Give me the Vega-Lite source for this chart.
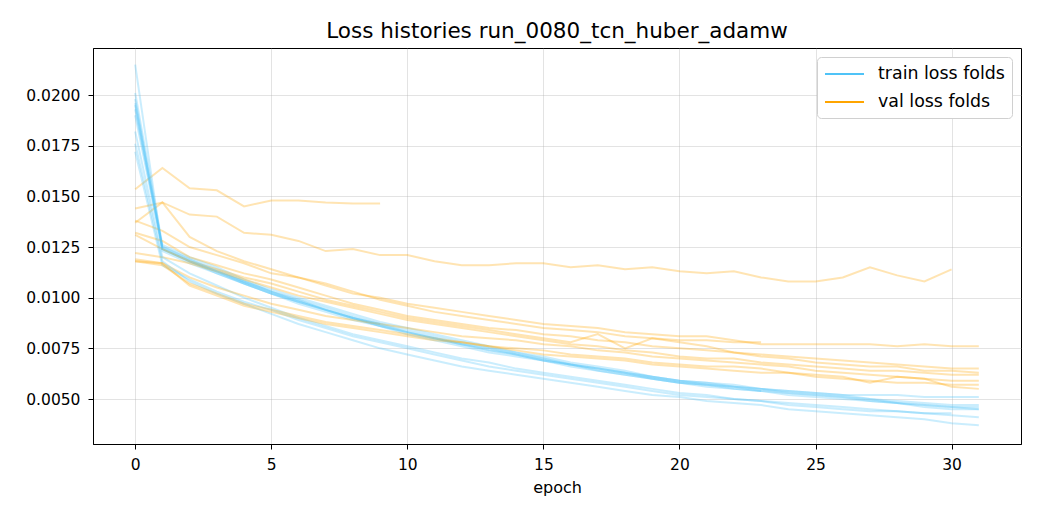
{
  "$schema": "https://vega.github.io/schema/vega-lite/v6.json",
  "width": 928,
  "height": 396,
  "autosize": "none",
  "padding": {"left": 93, "top": 48, "right": 19, "bottom": 76},
  "background": "white",
  "title": {"text": "Loss histories run_0080_tcn_huber_adamw", "fontSize": 21.5, "font": "DejaVu Sans", "fontWeight": "normal", "color": "black", "offset": 6},
  "config": {"view": {"stroke": "black", "strokeWidth": 1}, "font": "DejaVu Sans"},
  "data": {"values": [
    {"fold":"A","set":"train","epoch":0,"loss":0.0193},{"fold":"A","set":"train","epoch":1,"loss":0.0124},{"fold":"A","set":"train","epoch":2,"loss":0.0118},{"fold":"A","set":"train","epoch":3,"loss":0.0113},{"fold":"A","set":"train","epoch":4,"loss":0.0108},{"fold":"A","set":"train","epoch":5,"loss":0.0103},{"fold":"A","set":"train","epoch":6,"loss":0.0099},{"fold":"A","set":"train","epoch":7,"loss":0.0094},{"fold":"A","set":"train","epoch":8,"loss":0.0090},{"fold":"A","set":"train","epoch":9,"loss":0.0087},
    {"fold":"A","set":"val","epoch":0,"loss":0.01535},{"fold":"A","set":"val","epoch":1,"loss":0.0164},{"fold":"A","set":"val","epoch":2,"loss":0.0154},{"fold":"A","set":"val","epoch":3,"loss":0.0153},{"fold":"A","set":"val","epoch":4,"loss":0.0145},{"fold":"A","set":"val","epoch":5,"loss":0.0148},{"fold":"A","set":"val","epoch":6,"loss":0.0148},{"fold":"A","set":"val","epoch":7,"loss":0.0147},{"fold":"A","set":"val","epoch":8,"loss":0.01465},{"fold":"A","set":"val","epoch":9,"loss":0.01465},
    {"fold":"B","set":"train","epoch":0,"loss":0.0172},{"fold":"B","set":"train","epoch":1,"loss":0.0116},{"fold":"B","set":"train","epoch":2,"loss":0.0109},{"fold":"B","set":"train","epoch":3,"loss":0.0103},{"fold":"B","set":"train","epoch":4,"loss":0.0098},{"fold":"B","set":"train","epoch":5,"loss":0.0094},{"fold":"B","set":"train","epoch":6,"loss":0.0089},{"fold":"B","set":"train","epoch":7,"loss":0.0085},{"fold":"B","set":"train","epoch":8,"loss":0.0081},{"fold":"B","set":"train","epoch":9,"loss":0.0078},{"fold":"B","set":"train","epoch":10,"loss":0.0075},{"fold":"B","set":"train","epoch":11,"loss":0.0072},{"fold":"B","set":"train","epoch":12,"loss":0.0069},{"fold":"B","set":"train","epoch":13,"loss":0.0066},{"fold":"B","set":"train","epoch":14,"loss":0.0064},{"fold":"B","set":"train","epoch":15,"loss":0.0062},{"fold":"B","set":"train","epoch":16,"loss":0.0060},{"fold":"B","set":"train","epoch":17,"loss":0.0058},{"fold":"B","set":"train","epoch":18,"loss":0.0056},{"fold":"B","set":"train","epoch":19,"loss":0.0054},{"fold":"B","set":"train","epoch":20,"loss":0.0052},{"fold":"B","set":"train","epoch":21,"loss":0.0051},{"fold":"B","set":"train","epoch":22,"loss":0.0050},{"fold":"B","set":"train","epoch":23,"loss":0.0049},{"fold":"B","set":"train","epoch":24,"loss":0.0047},{"fold":"B","set":"train","epoch":25,"loss":0.0046},{"fold":"B","set":"train","epoch":26,"loss":0.0045},{"fold":"B","set":"train","epoch":27,"loss":0.0044},{"fold":"B","set":"train","epoch":28,"loss":0.0044},{"fold":"B","set":"train","epoch":29,"loss":0.0043},{"fold":"B","set":"train","epoch":30,"loss":0.0043},
    {"fold":"B","set":"val","epoch":0,"loss":0.0144},{"fold":"B","set":"val","epoch":1,"loss":0.0147},{"fold":"B","set":"val","epoch":2,"loss":0.0141},{"fold":"B","set":"val","epoch":3,"loss":0.0140},{"fold":"B","set":"val","epoch":4,"loss":0.0132},{"fold":"B","set":"val","epoch":5,"loss":0.0131},{"fold":"B","set":"val","epoch":6,"loss":0.0128},{"fold":"B","set":"val","epoch":7,"loss":0.0123},{"fold":"B","set":"val","epoch":8,"loss":0.0124},{"fold":"B","set":"val","epoch":9,"loss":0.0121},{"fold":"B","set":"val","epoch":10,"loss":0.0121},{"fold":"B","set":"val","epoch":11,"loss":0.0118},{"fold":"B","set":"val","epoch":12,"loss":0.0116},{"fold":"B","set":"val","epoch":13,"loss":0.0116},{"fold":"B","set":"val","epoch":14,"loss":0.0117},{"fold":"B","set":"val","epoch":15,"loss":0.0117},{"fold":"B","set":"val","epoch":16,"loss":0.0115},{"fold":"B","set":"val","epoch":17,"loss":0.0116},{"fold":"B","set":"val","epoch":18,"loss":0.0114},{"fold":"B","set":"val","epoch":19,"loss":0.0115},{"fold":"B","set":"val","epoch":20,"loss":0.0113},{"fold":"B","set":"val","epoch":21,"loss":0.0112},{"fold":"B","set":"val","epoch":22,"loss":0.0113},{"fold":"B","set":"val","epoch":23,"loss":0.0110},{"fold":"B","set":"val","epoch":24,"loss":0.0108},{"fold":"B","set":"val","epoch":25,"loss":0.0108},{"fold":"B","set":"val","epoch":26,"loss":0.0110},{"fold":"B","set":"val","epoch":27,"loss":0.0115},{"fold":"B","set":"val","epoch":28,"loss":0.0111},{"fold":"B","set":"val","epoch":29,"loss":0.0108},{"fold":"B","set":"val","epoch":30,"loss":0.0114},
    {"fold":"C","set":"train","epoch":0,"loss":0.0190},{"fold":"C","set":"train","epoch":1,"loss":0.0124},{"fold":"C","set":"train","epoch":2,"loss":0.0118},{"fold":"C","set":"train","epoch":3,"loss":0.0112},{"fold":"C","set":"train","epoch":4,"loss":0.0107},{"fold":"C","set":"train","epoch":5,"loss":0.0102},{"fold":"C","set":"train","epoch":6,"loss":0.0097},{"fold":"C","set":"train","epoch":7,"loss":0.0093},{"fold":"C","set":"train","epoch":8,"loss":0.0089},{"fold":"C","set":"train","epoch":9,"loss":0.0086},{"fold":"C","set":"train","epoch":10,"loss":0.0082},{"fold":"C","set":"train","epoch":11,"loss":0.0079},{"fold":"C","set":"train","epoch":12,"loss":0.0076},{"fold":"C","set":"train","epoch":13,"loss":0.0073},{"fold":"C","set":"train","epoch":14,"loss":0.0071},{"fold":"C","set":"train","epoch":15,"loss":0.0069},{"fold":"C","set":"train","epoch":16,"loss":0.0066},{"fold":"C","set":"train","epoch":17,"loss":0.0064},{"fold":"C","set":"train","epoch":18,"loss":0.0062},{"fold":"C","set":"train","epoch":19,"loss":0.0060},{"fold":"C","set":"train","epoch":20,"loss":0.0058},{"fold":"C","set":"train","epoch":21,"loss":0.0057},{"fold":"C","set":"train","epoch":22,"loss":0.0055},{"fold":"C","set":"train","epoch":23,"loss":0.0054},
    {"fold":"C","set":"val","epoch":0,"loss":0.0137},{"fold":"C","set":"val","epoch":1,"loss":0.0147},{"fold":"C","set":"val","epoch":2,"loss":0.0130},{"fold":"C","set":"val","epoch":3,"loss":0.0123},{"fold":"C","set":"val","epoch":4,"loss":0.0118},{"fold":"C","set":"val","epoch":5,"loss":0.0114},{"fold":"C","set":"val","epoch":6,"loss":0.0110},{"fold":"C","set":"val","epoch":7,"loss":0.0107},{"fold":"C","set":"val","epoch":8,"loss":0.0103},{"fold":"C","set":"val","epoch":9,"loss":0.0099},{"fold":"C","set":"val","epoch":10,"loss":0.0096},{"fold":"C","set":"val","epoch":11,"loss":0.0093},{"fold":"C","set":"val","epoch":12,"loss":0.0091},{"fold":"C","set":"val","epoch":13,"loss":0.0089},{"fold":"C","set":"val","epoch":14,"loss":0.0087},{"fold":"C","set":"val","epoch":15,"loss":0.0085},{"fold":"C","set":"val","epoch":16,"loss":0.0084},{"fold":"C","set":"val","epoch":17,"loss":0.0083},{"fold":"C","set":"val","epoch":18,"loss":0.0081},{"fold":"C","set":"val","epoch":19,"loss":0.0080},{"fold":"C","set":"val","epoch":20,"loss":0.0079},{"fold":"C","set":"val","epoch":21,"loss":0.0079},{"fold":"C","set":"val","epoch":22,"loss":0.0078},{"fold":"C","set":"val","epoch":23,"loss":0.0078},
    {"fold":"D","set":"train","epoch":0,"loss":0.0201},{"fold":"D","set":"train","epoch":1,"loss":0.0126},{"fold":"D","set":"train","epoch":2,"loss":0.0120},{"fold":"D","set":"train","epoch":3,"loss":0.0115},{"fold":"D","set":"train","epoch":4,"loss":0.0109},{"fold":"D","set":"train","epoch":5,"loss":0.0104},{"fold":"D","set":"train","epoch":6,"loss":0.0100},{"fold":"D","set":"train","epoch":7,"loss":0.0096},{"fold":"D","set":"train","epoch":8,"loss":0.0092},{"fold":"D","set":"train","epoch":9,"loss":0.0088},{"fold":"D","set":"train","epoch":10,"loss":0.0085},{"fold":"D","set":"train","epoch":11,"loss":0.0082},{"fold":"D","set":"train","epoch":12,"loss":0.0079},{"fold":"D","set":"train","epoch":13,"loss":0.0076},{"fold":"D","set":"train","epoch":14,"loss":0.0073},{"fold":"D","set":"train","epoch":15,"loss":0.0071},{"fold":"D","set":"train","epoch":16,"loss":0.0068},{"fold":"D","set":"train","epoch":17,"loss":0.0066},{"fold":"D","set":"train","epoch":18,"loss":0.0064},{"fold":"D","set":"train","epoch":19,"loss":0.0061},{"fold":"D","set":"train","epoch":20,"loss":0.0059},{"fold":"D","set":"train","epoch":21,"loss":0.0058},{"fold":"D","set":"train","epoch":22,"loss":0.0057},{"fold":"D","set":"train","epoch":23,"loss":0.0055},{"fold":"D","set":"train","epoch":24,"loss":0.0054},{"fold":"D","set":"train","epoch":25,"loss":0.0053},{"fold":"D","set":"train","epoch":26,"loss":0.0052},{"fold":"D","set":"train","epoch":27,"loss":0.0050},{"fold":"D","set":"train","epoch":28,"loss":0.0049},{"fold":"D","set":"train","epoch":29,"loss":0.0048},{"fold":"D","set":"train","epoch":30,"loss":0.0047},{"fold":"D","set":"train","epoch":31,"loss":0.0047},
    {"fold":"D","set":"val","epoch":0,"loss":0.0138},{"fold":"D","set":"val","epoch":1,"loss":0.0133},{"fold":"D","set":"val","epoch":2,"loss":0.0125},{"fold":"D","set":"val","epoch":3,"loss":0.0121},{"fold":"D","set":"val","epoch":4,"loss":0.0117},{"fold":"D","set":"val","epoch":5,"loss":0.0112},{"fold":"D","set":"val","epoch":6,"loss":0.0110},{"fold":"D","set":"val","epoch":7,"loss":0.0106},{"fold":"D","set":"val","epoch":8,"loss":0.0102},{"fold":"D","set":"val","epoch":9,"loss":0.0100},{"fold":"D","set":"val","epoch":10,"loss":0.0097},{"fold":"D","set":"val","epoch":11,"loss":0.0095},{"fold":"D","set":"val","epoch":12,"loss":0.0093},{"fold":"D","set":"val","epoch":13,"loss":0.0091},{"fold":"D","set":"val","epoch":14,"loss":0.0089},{"fold":"D","set":"val","epoch":15,"loss":0.0087},{"fold":"D","set":"val","epoch":16,"loss":0.0086},{"fold":"D","set":"val","epoch":17,"loss":0.0085},{"fold":"D","set":"val","epoch":18,"loss":0.0083},{"fold":"D","set":"val","epoch":19,"loss":0.0082},{"fold":"D","set":"val","epoch":20,"loss":0.0081},{"fold":"D","set":"val","epoch":21,"loss":0.0081},{"fold":"D","set":"val","epoch":22,"loss":0.0079},{"fold":"D","set":"val","epoch":23,"loss":0.0077},{"fold":"D","set":"val","epoch":24,"loss":0.0077},{"fold":"D","set":"val","epoch":25,"loss":0.0077},{"fold":"D","set":"val","epoch":26,"loss":0.0077},{"fold":"D","set":"val","epoch":27,"loss":0.0077},{"fold":"D","set":"val","epoch":28,"loss":0.0076},{"fold":"D","set":"val","epoch":29,"loss":0.0077},{"fold":"D","set":"val","epoch":30,"loss":0.0076},{"fold":"D","set":"val","epoch":31,"loss":0.0076},
    {"fold":"E","set":"train","epoch":0,"loss":0.0198},{"fold":"E","set":"train","epoch":1,"loss":0.0125},{"fold":"E","set":"train","epoch":2,"loss":0.0119},{"fold":"E","set":"train","epoch":3,"loss":0.0114},{"fold":"E","set":"train","epoch":4,"loss":0.0108},{"fold":"E","set":"train","epoch":5,"loss":0.0103},{"fold":"E","set":"train","epoch":6,"loss":0.0099},{"fold":"E","set":"train","epoch":7,"loss":0.0095},{"fold":"E","set":"train","epoch":8,"loss":0.0091},{"fold":"E","set":"train","epoch":9,"loss":0.0087},{"fold":"E","set":"train","epoch":10,"loss":0.0084},{"fold":"E","set":"train","epoch":11,"loss":0.0081},{"fold":"E","set":"train","epoch":12,"loss":0.0078},{"fold":"E","set":"train","epoch":13,"loss":0.0075},{"fold":"E","set":"train","epoch":14,"loss":0.0073},{"fold":"E","set":"train","epoch":15,"loss":0.0070},{"fold":"E","set":"train","epoch":16,"loss":0.0067},{"fold":"E","set":"train","epoch":17,"loss":0.0065},{"fold":"E","set":"train","epoch":18,"loss":0.0063},{"fold":"E","set":"train","epoch":19,"loss":0.0060},{"fold":"E","set":"train","epoch":20,"loss":0.0058},{"fold":"E","set":"train","epoch":21,"loss":0.0057},{"fold":"E","set":"train","epoch":22,"loss":0.0056},{"fold":"E","set":"train","epoch":23,"loss":0.0054},{"fold":"E","set":"train","epoch":24,"loss":0.0053},{"fold":"E","set":"train","epoch":25,"loss":0.0052},{"fold":"E","set":"train","epoch":26,"loss":0.0051},{"fold":"E","set":"train","epoch":27,"loss":0.0049},{"fold":"E","set":"train","epoch":28,"loss":0.0048},{"fold":"E","set":"train","epoch":29,"loss":0.0047},{"fold":"E","set":"train","epoch":30,"loss":0.0046},{"fold":"E","set":"train","epoch":31,"loss":0.0046},
    {"fold":"E","set":"val","epoch":0,"loss":0.0132},{"fold":"E","set":"val","epoch":1,"loss":0.0128},{"fold":"E","set":"val","epoch":2,"loss":0.0120},{"fold":"E","set":"val","epoch":3,"loss":0.0116},{"fold":"E","set":"val","epoch":4,"loss":0.0112},{"fold":"E","set":"val","epoch":5,"loss":0.0109},{"fold":"E","set":"val","epoch":6,"loss":0.0105},{"fold":"E","set":"val","epoch":7,"loss":0.0101},{"fold":"E","set":"val","epoch":8,"loss":0.0097},{"fold":"E","set":"val","epoch":9,"loss":0.0094},{"fold":"E","set":"val","epoch":10,"loss":0.0091},{"fold":"E","set":"val","epoch":11,"loss":0.0089},{"fold":"E","set":"val","epoch":12,"loss":0.0087},{"fold":"E","set":"val","epoch":13,"loss":0.0085},{"fold":"E","set":"val","epoch":14,"loss":0.0084},{"fold":"E","set":"val","epoch":15,"loss":0.0082},{"fold":"E","set":"val","epoch":16,"loss":0.0081},{"fold":"E","set":"val","epoch":17,"loss":0.0079},{"fold":"E","set":"val","epoch":18,"loss":0.0078},{"fold":"E","set":"val","epoch":19,"loss":0.0076},{"fold":"E","set":"val","epoch":20,"loss":0.0075},{"fold":"E","set":"val","epoch":21,"loss":0.0074},{"fold":"E","set":"val","epoch":22,"loss":0.0073},{"fold":"E","set":"val","epoch":23,"loss":0.0072},{"fold":"E","set":"val","epoch":24,"loss":0.0071},{"fold":"E","set":"val","epoch":25,"loss":0.0070},{"fold":"E","set":"val","epoch":26,"loss":0.0069},{"fold":"E","set":"val","epoch":27,"loss":0.0068},{"fold":"E","set":"val","epoch":28,"loss":0.0067},{"fold":"E","set":"val","epoch":29,"loss":0.0066},{"fold":"E","set":"val","epoch":30,"loss":0.0065},{"fold":"E","set":"val","epoch":31,"loss":0.0065},
    {"fold":"F","set":"train","epoch":0,"loss":0.0196},{"fold":"F","set":"train","epoch":1,"loss":0.0124},{"fold":"F","set":"train","epoch":2,"loss":0.0118},{"fold":"F","set":"train","epoch":3,"loss":0.0113},{"fold":"F","set":"train","epoch":4,"loss":0.0107},{"fold":"F","set":"train","epoch":5,"loss":0.0102},{"fold":"F","set":"train","epoch":6,"loss":0.0098},{"fold":"F","set":"train","epoch":7,"loss":0.0094},{"fold":"F","set":"train","epoch":8,"loss":0.0090},{"fold":"F","set":"train","epoch":9,"loss":0.0086},{"fold":"F","set":"train","epoch":10,"loss":0.0083},{"fold":"F","set":"train","epoch":11,"loss":0.0080},{"fold":"F","set":"train","epoch":12,"loss":0.0077},{"fold":"F","set":"train","epoch":13,"loss":0.0074},{"fold":"F","set":"train","epoch":14,"loss":0.0072},{"fold":"F","set":"train","epoch":15,"loss":0.0069},{"fold":"F","set":"train","epoch":16,"loss":0.0067},{"fold":"F","set":"train","epoch":17,"loss":0.0064},{"fold":"F","set":"train","epoch":18,"loss":0.0062},{"fold":"F","set":"train","epoch":19,"loss":0.0060},{"fold":"F","set":"train","epoch":20,"loss":0.0058},{"fold":"F","set":"train","epoch":21,"loss":0.0056},{"fold":"F","set":"train","epoch":22,"loss":0.0055},{"fold":"F","set":"train","epoch":23,"loss":0.0054},{"fold":"F","set":"train","epoch":24,"loss":0.0052},{"fold":"F","set":"train","epoch":25,"loss":0.0051},{"fold":"F","set":"train","epoch":26,"loss":0.0050},{"fold":"F","set":"train","epoch":27,"loss":0.0049},{"fold":"F","set":"train","epoch":28,"loss":0.0048},{"fold":"F","set":"train","epoch":29,"loss":0.0046},{"fold":"F","set":"train","epoch":30,"loss":0.0045},{"fold":"F","set":"train","epoch":31,"loss":0.0045},
    {"fold":"F","set":"val","epoch":0,"loss":0.0131},{"fold":"F","set":"val","epoch":1,"loss":0.0124},{"fold":"F","set":"val","epoch":2,"loss":0.0118},{"fold":"F","set":"val","epoch":3,"loss":0.0114},{"fold":"F","set":"val","epoch":4,"loss":0.0110},{"fold":"F","set":"val","epoch":5,"loss":0.0107},{"fold":"F","set":"val","epoch":6,"loss":0.0103},{"fold":"F","set":"val","epoch":7,"loss":0.0099},{"fold":"F","set":"val","epoch":8,"loss":0.0096},{"fold":"F","set":"val","epoch":9,"loss":0.0093},{"fold":"F","set":"val","epoch":10,"loss":0.0090},{"fold":"F","set":"val","epoch":11,"loss":0.0088},{"fold":"F","set":"val","epoch":12,"loss":0.0086},{"fold":"F","set":"val","epoch":13,"loss":0.0084},{"fold":"F","set":"val","epoch":14,"loss":0.0082},{"fold":"F","set":"val","epoch":15,"loss":0.0080},{"fold":"F","set":"val","epoch":16,"loss":0.0078},{"fold":"F","set":"val","epoch":17,"loss":0.0082},{"fold":"F","set":"val","epoch":18,"loss":0.0075},{"fold":"F","set":"val","epoch":19,"loss":0.0080},{"fold":"F","set":"val","epoch":20,"loss":0.0078},{"fold":"F","set":"val","epoch":21,"loss":0.0076},{"fold":"F","set":"val","epoch":22,"loss":0.0073},{"fold":"F","set":"val","epoch":23,"loss":0.0071},{"fold":"F","set":"val","epoch":24,"loss":0.0070},{"fold":"F","set":"val","epoch":25,"loss":0.0068},{"fold":"F","set":"val","epoch":26,"loss":0.0067},{"fold":"F","set":"val","epoch":27,"loss":0.0066},{"fold":"F","set":"val","epoch":28,"loss":0.0066},{"fold":"F","set":"val","epoch":29,"loss":0.0064},{"fold":"F","set":"val","epoch":30,"loss":0.0064},{"fold":"F","set":"val","epoch":31,"loss":0.0063},
    {"fold":"G","set":"train","epoch":0,"loss":0.0215},{"fold":"G","set":"train","epoch":1,"loss":0.0123},{"fold":"G","set":"train","epoch":2,"loss":0.0117},{"fold":"G","set":"train","epoch":3,"loss":0.0112},{"fold":"G","set":"train","epoch":4,"loss":0.0107},{"fold":"G","set":"train","epoch":5,"loss":0.0102},{"fold":"G","set":"train","epoch":6,"loss":0.0098},{"fold":"G","set":"train","epoch":7,"loss":0.0094},{"fold":"G","set":"train","epoch":8,"loss":0.0090},{"fold":"G","set":"train","epoch":9,"loss":0.0086},{"fold":"G","set":"train","epoch":10,"loss":0.0083},{"fold":"G","set":"train","epoch":11,"loss":0.0080},{"fold":"G","set":"train","epoch":12,"loss":0.0077},{"fold":"G","set":"train","epoch":13,"loss":0.0074},{"fold":"G","set":"train","epoch":14,"loss":0.0072},{"fold":"G","set":"train","epoch":15,"loss":0.0069},{"fold":"G","set":"train","epoch":16,"loss":0.0067},{"fold":"G","set":"train","epoch":17,"loss":0.0065},{"fold":"G","set":"train","epoch":18,"loss":0.0063},{"fold":"G","set":"train","epoch":19,"loss":0.0061},{"fold":"G","set":"train","epoch":20,"loss":0.0059},{"fold":"G","set":"train","epoch":21,"loss":0.0057},{"fold":"G","set":"train","epoch":22,"loss":0.0056},{"fold":"G","set":"train","epoch":23,"loss":0.0055},{"fold":"G","set":"train","epoch":24,"loss":0.0054},{"fold":"G","set":"train","epoch":25,"loss":0.0053},{"fold":"G","set":"train","epoch":26,"loss":0.0052},{"fold":"G","set":"train","epoch":27,"loss":0.0052},{"fold":"G","set":"train","epoch":28,"loss":0.0052},{"fold":"G","set":"train","epoch":29,"loss":0.0051},{"fold":"G","set":"train","epoch":30,"loss":0.0051},{"fold":"G","set":"train","epoch":31,"loss":0.0051},
    {"fold":"G","set":"val","epoch":0,"loss":0.0122},{"fold":"G","set":"val","epoch":1,"loss":0.0120},{"fold":"G","set":"val","epoch":2,"loss":0.0117},{"fold":"G","set":"val","epoch":3,"loss":0.0113},{"fold":"G","set":"val","epoch":4,"loss":0.0109},{"fold":"G","set":"val","epoch":5,"loss":0.0105},{"fold":"G","set":"val","epoch":6,"loss":0.0101},{"fold":"G","set":"val","epoch":7,"loss":0.0098},{"fold":"G","set":"val","epoch":8,"loss":0.0095},{"fold":"G","set":"val","epoch":9,"loss":0.0092},{"fold":"G","set":"val","epoch":10,"loss":0.0089},{"fold":"G","set":"val","epoch":11,"loss":0.0087},{"fold":"G","set":"val","epoch":12,"loss":0.0085},{"fold":"G","set":"val","epoch":13,"loss":0.0083},{"fold":"G","set":"val","epoch":14,"loss":0.0081},{"fold":"G","set":"val","epoch":15,"loss":0.0079},{"fold":"G","set":"val","epoch":16,"loss":0.0077},{"fold":"G","set":"val","epoch":17,"loss":0.0076},{"fold":"G","set":"val","epoch":18,"loss":0.0074},{"fold":"G","set":"val","epoch":19,"loss":0.0073},{"fold":"G","set":"val","epoch":20,"loss":0.0071},{"fold":"G","set":"val","epoch":21,"loss":0.0070},{"fold":"G","set":"val","epoch":22,"loss":0.0070},{"fold":"G","set":"val","epoch":23,"loss":0.0068},{"fold":"G","set":"val","epoch":24,"loss":0.0067},{"fold":"G","set":"val","epoch":25,"loss":0.0066},{"fold":"G","set":"val","epoch":26,"loss":0.0065},{"fold":"G","set":"val","epoch":27,"loss":0.0064},{"fold":"G","set":"val","epoch":28,"loss":0.0064},{"fold":"G","set":"val","epoch":29,"loss":0.0063},{"fold":"G","set":"val","epoch":30,"loss":0.0062},{"fold":"G","set":"val","epoch":31,"loss":0.0062},
    {"fold":"H","set":"train","epoch":0,"loss":0.0182},{"fold":"H","set":"train","epoch":1,"loss":0.0120},{"fold":"H","set":"train","epoch":2,"loss":0.0112},{"fold":"H","set":"train","epoch":3,"loss":0.0106},{"fold":"H","set":"train","epoch":4,"loss":0.0100},{"fold":"H","set":"train","epoch":5,"loss":0.0095},{"fold":"H","set":"train","epoch":6,"loss":0.0090},{"fold":"H","set":"train","epoch":7,"loss":0.0086},{"fold":"H","set":"train","epoch":8,"loss":0.0082},{"fold":"H","set":"train","epoch":9,"loss":0.0079},{"fold":"H","set":"train","epoch":10,"loss":0.0076},{"fold":"H","set":"train","epoch":11,"loss":0.0073},{"fold":"H","set":"train","epoch":12,"loss":0.0070},{"fold":"H","set":"train","epoch":13,"loss":0.0068},{"fold":"H","set":"train","epoch":14,"loss":0.0065},{"fold":"H","set":"train","epoch":15,"loss":0.0063},{"fold":"H","set":"train","epoch":16,"loss":0.0061},{"fold":"H","set":"train","epoch":17,"loss":0.0059},{"fold":"H","set":"train","epoch":18,"loss":0.0057},{"fold":"H","set":"train","epoch":19,"loss":0.0055},{"fold":"H","set":"train","epoch":20,"loss":0.0053},{"fold":"H","set":"train","epoch":21,"loss":0.0052},{"fold":"H","set":"train","epoch":22,"loss":0.0050},{"fold":"H","set":"train","epoch":23,"loss":0.0049},{"fold":"H","set":"train","epoch":24,"loss":0.0048},{"fold":"H","set":"train","epoch":25,"loss":0.0047},{"fold":"H","set":"train","epoch":26,"loss":0.0046},{"fold":"H","set":"train","epoch":27,"loss":0.0045},{"fold":"H","set":"train","epoch":28,"loss":0.0044},{"fold":"H","set":"train","epoch":29,"loss":0.0043},{"fold":"H","set":"train","epoch":30,"loss":0.0042},{"fold":"H","set":"train","epoch":31,"loss":0.0041},
    {"fold":"H","set":"val","epoch":0,"loss":0.0119},{"fold":"H","set":"val","epoch":1,"loss":0.0117},{"fold":"H","set":"val","epoch":2,"loss":0.0110},{"fold":"H","set":"val","epoch":3,"loss":0.0105},{"fold":"H","set":"val","epoch":4,"loss":0.0101},{"fold":"H","set":"val","epoch":5,"loss":0.0097},{"fold":"H","set":"val","epoch":6,"loss":0.0094},{"fold":"H","set":"val","epoch":7,"loss":0.0091},{"fold":"H","set":"val","epoch":8,"loss":0.0089},{"fold":"H","set":"val","epoch":9,"loss":0.0087},{"fold":"H","set":"val","epoch":10,"loss":0.0085},{"fold":"H","set":"val","epoch":11,"loss":0.0083},{"fold":"H","set":"val","epoch":12,"loss":0.0081},{"fold":"H","set":"val","epoch":13,"loss":0.0080},{"fold":"H","set":"val","epoch":14,"loss":0.0079},{"fold":"H","set":"val","epoch":15,"loss":0.0077},{"fold":"H","set":"val","epoch":16,"loss":0.0076},{"fold":"H","set":"val","epoch":17,"loss":0.0074},{"fold":"H","set":"val","epoch":18,"loss":0.0073},{"fold":"H","set":"val","epoch":19,"loss":0.0071},{"fold":"H","set":"val","epoch":20,"loss":0.0070},{"fold":"H","set":"val","epoch":21,"loss":0.0069},{"fold":"H","set":"val","epoch":22,"loss":0.0068},{"fold":"H","set":"val","epoch":23,"loss":0.0067},{"fold":"H","set":"val","epoch":24,"loss":0.0066},{"fold":"H","set":"val","epoch":25,"loss":0.0064},{"fold":"H","set":"val","epoch":26,"loss":0.0063},{"fold":"H","set":"val","epoch":27,"loss":0.0062},{"fold":"H","set":"val","epoch":28,"loss":0.0061},{"fold":"H","set":"val","epoch":29,"loss":0.0060},{"fold":"H","set":"val","epoch":30,"loss":0.0059},{"fold":"H","set":"val","epoch":31,"loss":0.0059},
    {"fold":"I","set":"train","epoch":0,"loss":0.0176},{"fold":"I","set":"train","epoch":1,"loss":0.0118},{"fold":"I","set":"train","epoch":2,"loss":0.0108},{"fold":"I","set":"train","epoch":3,"loss":0.0102},{"fold":"I","set":"train","epoch":4,"loss":0.0097},{"fold":"I","set":"train","epoch":5,"loss":0.0092},{"fold":"I","set":"train","epoch":6,"loss":0.0087},{"fold":"I","set":"train","epoch":7,"loss":0.0083},{"fold":"I","set":"train","epoch":8,"loss":0.0079},{"fold":"I","set":"train","epoch":9,"loss":0.0075},{"fold":"I","set":"train","epoch":10,"loss":0.0072},{"fold":"I","set":"train","epoch":11,"loss":0.0069},{"fold":"I","set":"train","epoch":12,"loss":0.0066},{"fold":"I","set":"train","epoch":13,"loss":0.0064},{"fold":"I","set":"train","epoch":14,"loss":0.0062},{"fold":"I","set":"train","epoch":15,"loss":0.0060},{"fold":"I","set":"train","epoch":16,"loss":0.0058},{"fold":"I","set":"train","epoch":17,"loss":0.0056},{"fold":"I","set":"train","epoch":18,"loss":0.0054},{"fold":"I","set":"train","epoch":19,"loss":0.0052},{"fold":"I","set":"train","epoch":20,"loss":0.0051},{"fold":"I","set":"train","epoch":21,"loss":0.0049},{"fold":"I","set":"train","epoch":22,"loss":0.0048},{"fold":"I","set":"train","epoch":23,"loss":0.0047},{"fold":"I","set":"train","epoch":24,"loss":0.0045},{"fold":"I","set":"train","epoch":25,"loss":0.0044},{"fold":"I","set":"train","epoch":26,"loss":0.0043},{"fold":"I","set":"train","epoch":27,"loss":0.0042},{"fold":"I","set":"train","epoch":28,"loss":0.0041},{"fold":"I","set":"train","epoch":29,"loss":0.0040},{"fold":"I","set":"train","epoch":30,"loss":0.0038},{"fold":"I","set":"train","epoch":31,"loss":0.0037},
    {"fold":"I","set":"val","epoch":0,"loss":0.0118},{"fold":"I","set":"val","epoch":1,"loss":0.0116},{"fold":"I","set":"val","epoch":2,"loss":0.0107},{"fold":"I","set":"val","epoch":3,"loss":0.0102},{"fold":"I","set":"val","epoch":4,"loss":0.0097},{"fold":"I","set":"val","epoch":5,"loss":0.0094},{"fold":"I","set":"val","epoch":6,"loss":0.0091},{"fold":"I","set":"val","epoch":7,"loss":0.0088},{"fold":"I","set":"val","epoch":8,"loss":0.0086},{"fold":"I","set":"val","epoch":9,"loss":0.0084},{"fold":"I","set":"val","epoch":10,"loss":0.0082},{"fold":"I","set":"val","epoch":11,"loss":0.0080},{"fold":"I","set":"val","epoch":12,"loss":0.0078},{"fold":"I","set":"val","epoch":13,"loss":0.0076},{"fold":"I","set":"val","epoch":14,"loss":0.0075},{"fold":"I","set":"val","epoch":15,"loss":0.0074},{"fold":"I","set":"val","epoch":16,"loss":0.0072},{"fold":"I","set":"val","epoch":17,"loss":0.0071},{"fold":"I","set":"val","epoch":18,"loss":0.0070},{"fold":"I","set":"val","epoch":19,"loss":0.0068},{"fold":"I","set":"val","epoch":20,"loss":0.0067},{"fold":"I","set":"val","epoch":21,"loss":0.0066},{"fold":"I","set":"val","epoch":22,"loss":0.0066},{"fold":"I","set":"val","epoch":23,"loss":0.0065},{"fold":"I","set":"val","epoch":24,"loss":0.0063},{"fold":"I","set":"val","epoch":25,"loss":0.0061},{"fold":"I","set":"val","epoch":26,"loss":0.0060},{"fold":"I","set":"val","epoch":27,"loss":0.0059},{"fold":"I","set":"val","epoch":28,"loss":0.0058},{"fold":"I","set":"val","epoch":29,"loss":0.0058},{"fold":"I","set":"val","epoch":30,"loss":0.0057},{"fold":"I","set":"val","epoch":31,"loss":0.0057},
    {"fold":"J","set":"train","epoch":0,"loss":0.0195},{"fold":"J","set":"train","epoch":1,"loss":0.0125},{"fold":"J","set":"train","epoch":2,"loss":0.0119},{"fold":"J","set":"train","epoch":3,"loss":0.0113},{"fold":"J","set":"train","epoch":4,"loss":0.0108},{"fold":"J","set":"train","epoch":5,"loss":0.0103},{"fold":"J","set":"train","epoch":6,"loss":0.0098},{"fold":"J","set":"train","epoch":7,"loss":0.0094},{"fold":"J","set":"train","epoch":8,"loss":0.0090},{"fold":"J","set":"train","epoch":9,"loss":0.0087},{"fold":"J","set":"train","epoch":10,"loss":0.0083},{"fold":"J","set":"train","epoch":11,"loss":0.0080},{"fold":"J","set":"train","epoch":12,"loss":0.0077},{"fold":"J","set":"train","epoch":13,"loss":0.0075},{"fold":"J","set":"train","epoch":14,"loss":0.0072},{"fold":"J","set":"train","epoch":15,"loss":0.0070},{"fold":"J","set":"train","epoch":16,"loss":0.0067},{"fold":"J","set":"train","epoch":17,"loss":0.0065},{"fold":"J","set":"train","epoch":18,"loss":0.0063},{"fold":"J","set":"train","epoch":19,"loss":0.0061},{"fold":"J","set":"train","epoch":20,"loss":0.0059},{"fold":"J","set":"train","epoch":21,"loss":0.0058},{"fold":"J","set":"train","epoch":22,"loss":0.0056},{"fold":"J","set":"train","epoch":23,"loss":0.0055},{"fold":"J","set":"train","epoch":24,"loss":0.0053},{"fold":"J","set":"train","epoch":25,"loss":0.0052},{"fold":"J","set":"train","epoch":26,"loss":0.0051},{"fold":"J","set":"train","epoch":27,"loss":0.0050},{"fold":"J","set":"train","epoch":28,"loss":0.0048},{"fold":"J","set":"train","epoch":29,"loss":0.0047},{"fold":"J","set":"train","epoch":30,"loss":0.0046},{"fold":"J","set":"train","epoch":31,"loss":0.0045},
    {"fold":"J","set":"val","epoch":0,"loss":0.0118},{"fold":"J","set":"val","epoch":1,"loss":0.0117},{"fold":"J","set":"val","epoch":2,"loss":0.0106},{"fold":"J","set":"val","epoch":3,"loss":0.0101},{"fold":"J","set":"val","epoch":4,"loss":0.0096},{"fold":"J","set":"val","epoch":5,"loss":0.0093},{"fold":"J","set":"val","epoch":6,"loss":0.0090},{"fold":"J","set":"val","epoch":7,"loss":0.0087},{"fold":"J","set":"val","epoch":8,"loss":0.0085},{"fold":"J","set":"val","epoch":9,"loss":0.0083},{"fold":"J","set":"val","epoch":10,"loss":0.0081},{"fold":"J","set":"val","epoch":11,"loss":0.0079},{"fold":"J","set":"val","epoch":12,"loss":0.0078},{"fold":"J","set":"val","epoch":13,"loss":0.0076},{"fold":"J","set":"val","epoch":14,"loss":0.0074},{"fold":"J","set":"val","epoch":15,"loss":0.0072},{"fold":"J","set":"val","epoch":16,"loss":0.0071},{"fold":"J","set":"val","epoch":17,"loss":0.0070},{"fold":"J","set":"val","epoch":18,"loss":0.0069},{"fold":"J","set":"val","epoch":19,"loss":0.0067},{"fold":"J","set":"val","epoch":20,"loss":0.0066},{"fold":"J","set":"val","epoch":21,"loss":0.0065},{"fold":"J","set":"val","epoch":22,"loss":0.0064},{"fold":"J","set":"val","epoch":23,"loss":0.0063},{"fold":"J","set":"val","epoch":24,"loss":0.0063},{"fold":"J","set":"val","epoch":25,"loss":0.0062},{"fold":"J","set":"val","epoch":26,"loss":0.0061},{"fold":"J","set":"val","epoch":27,"loss":0.0058},{"fold":"J","set":"val","epoch":28,"loss":0.0061},{"fold":"J","set":"val","epoch":29,"loss":0.0060},{"fold":"J","set":"val","epoch":30,"loss":0.0056},{"fold":"J","set":"val","epoch":31,"loss":0.0055}
  ]},
  "mark": {"type": "line", "strokeWidth": 2, "opacity": 0.3},
  "encoding": {
    "x": {
      "field": "epoch", "type": "quantitative",
      "scale": {"domain": [-1.55, 32.55], "nice": false, "zero": false},
      "axis": {"values": [0, 5, 10, 15, 20, 25, 30], "format": "d", "title": "epoch",
        "grid": true, "gridColor": "#b0b0b0", "gridOpacity": 0.35,
        "domainColor": "black", "tickColor": "black", "tickSize": 5, "labelPadding": 8,
        "labelFontSize": 15.5, "labelColor": "black", "labelFont": "DejaVu Sans",
        "titleFontSize": 16, "titleFontWeight": "normal", "titleColor": "black", "titleFont": "DejaVu Sans", "titlePadding": 7}
    },
    "y": {
      "field": "loss", "type": "quantitative",
      "scale": {"domain": [0.00278, 0.02232], "nice": false, "zero": false},
      "axis": {"values": [0.005, 0.0075, 0.01, 0.0125, 0.015, 0.0175, 0.02], "format": ".4f", "title": null,
        "grid": true, "gridColor": "#b0b0b0", "gridOpacity": 0.35,
        "domainColor": "black", "tickColor": "black", "tickSize": 5, "labelPadding": 8,
        "labelFontSize": 15.5, "labelColor": "black", "labelFont": "DejaVu Sans"}
    },
    "color": {
      "field": "set", "type": "nominal",
      "scale": {"domain": ["train", "val"], "range": ["#4fc3f7", "#ffa500"]},
      "legend": {"orient": "top-right", "offset": 9, "title": null,
        "labelExpr": "datum.label == 'train' ? 'train loss folds' : 'val loss folds'",
        "labelFontSize": 17.4, "labelColor": "black", "labelFont": "DejaVu Sans",
        "symbolType": "M-1,0H3.333", "symbolStrokeWidth": 2, "symbolSize": 324, "symbolOpacity": 1,
        "fillColor": "white", "strokeColor": "#d0d0d0", "cornerRadius": 4, "padding": 7, "rowPadding": 9, "labelOffset": 34}
    },
    "detail": {"field": "fold", "type": "nominal"}
  }
}
